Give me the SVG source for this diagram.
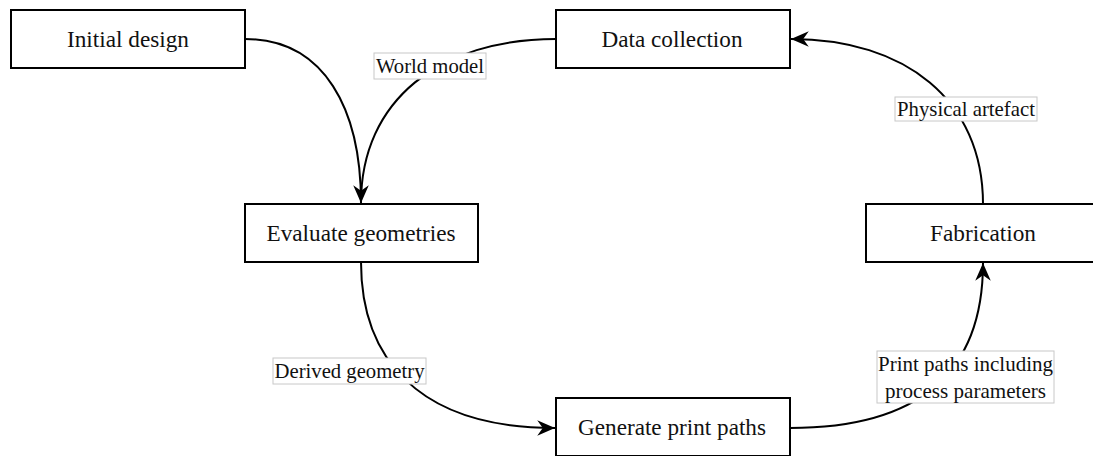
<svg xmlns="http://www.w3.org/2000/svg" width="1093" height="456" viewBox="0 0 1093 456">
<style>
.node rect{fill:#fff;stroke:#000;stroke-width:2}
.node text{font-family:"Liberation Serif",serif;font-size:23.5px;fill:#111;text-anchor:middle;dominant-baseline:central}
.edge{fill:none;stroke:#000;stroke-width:2}
.lbl rect{fill:#fff;stroke:#c8c8c8;stroke-width:1}
.lbl text{font-family:"Liberation Serif",serif;font-size:21.5px;fill:#111;text-anchor:middle;dominant-baseline:central}
</style>
<defs>
<marker id="arr" markerUnits="userSpaceOnUse" markerWidth="20" markerHeight="20" viewBox="-16 -8 18 16" refX="0" refY="0" orient="auto">
<path d="M0,0 L-16,-7 L-11,0 L-16,7 Z" fill="#000"/>
</marker>
</defs>
<rect width="1093" height="456" fill="#fff"/>
<g id="connectors">
<path class="edge" d="M245,39 C325,39 361,110 361,203" marker-end="url(#arr)"/>
<path class="edge" d="M556,39 C440,39 361,100 361,203"/>
<path class="edge" d="M361,262 C361,355 415,428 555,428" marker-end="url(#arr)"/>
<path class="edge" d="M790,428 C890,428 983,395 983,263" marker-end="url(#arr)"/>
<path class="edge" d="M983,204 C983,100 905,39 791,39" marker-end="url(#arr)"/>
<g class="lbl"><rect x="374" y="53" width="112" height="26"/><text x="430" y="66" textLength="108" lengthAdjust="spacingAndGlyphs">World model</text></g>
<g class="lbl"><rect x="895" y="97" width="142" height="24"/><text x="966" y="109" textLength="138" lengthAdjust="spacingAndGlyphs">Physical artefact</text></g>
<g class="lbl"><rect x="273" y="358" width="153" height="26"/><text x="349.5" y="371" textLength="150" lengthAdjust="spacingAndGlyphs">Derived geometry</text></g>
<g class="lbl"><rect x="877" y="351" width="177" height="52"/><text x="965.5" y="364" textLength="175" lengthAdjust="spacingAndGlyphs">Print paths including</text><text x="965.5" y="391" textLength="161" lengthAdjust="spacingAndGlyphs">process parameters</text></g>
</g>
<g id="initial-design" class="node"><rect x="11" y="10" width="234" height="58"/><text x="128" y="39" textLength="122" lengthAdjust="spacingAndGlyphs">Initial design</text></g>
<g id="data-collection" class="node"><rect x="556" y="10" width="234" height="58"/><text x="672" y="39" textLength="141" lengthAdjust="spacingAndGlyphs">Data collection</text></g>
<g id="evaluate-geometries" class="node"><rect x="245" y="204" width="233" height="58"/><text x="361" y="233" textLength="189" lengthAdjust="spacingAndGlyphs">Evaluate geometries</text></g>
<g id="fabrication" class="node"><rect x="866" y="204" width="234" height="58"/><text x="983" y="233" textLength="106" lengthAdjust="spacingAndGlyphs">Fabrication</text></g>
<g id="generate-print-paths" class="node"><rect x="556" y="398" width="234" height="58"/><text x="672" y="427" textLength="188" lengthAdjust="spacingAndGlyphs">Generate print paths</text></g>
</svg>
